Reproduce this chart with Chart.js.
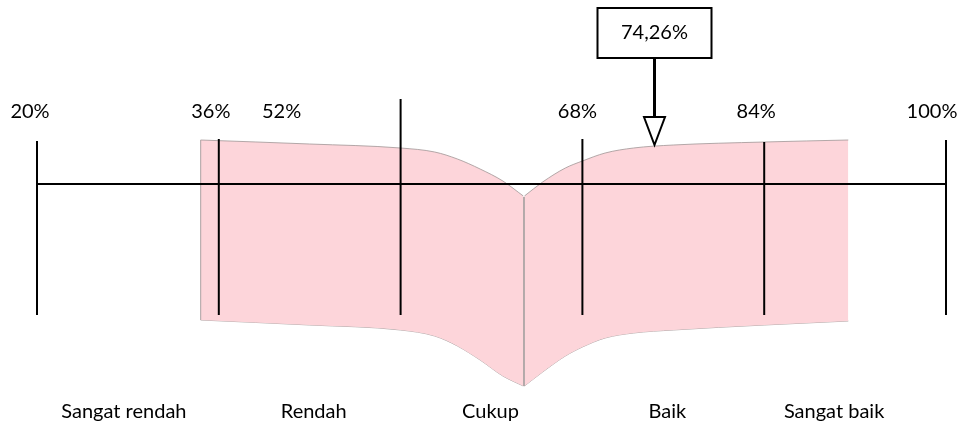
<!DOCTYPE html>
<html lang="id">
<head>
<meta charset="UTF-8">
<title>Skala kategori</title>
<style>
  html, body { margin: 0; padding: 0; background: #ffffff; }
  #chart { display: block; }
</style>
</head>
<body>
<canvas id="chart" width="964" height="427"></canvas>

<script src="https://cdn.jsdelivr.net/npm/chart.js@4/dist/chart.umd.min.js"></script>
<script>
    // scale ticks (percent) and the category names between them
    const tickValues = [20, 36, 52, 68, 84, 100];
    const tickTops = [4.3, 4.5, 8.5, 4.5, 4.2, 4.4];
    const tickBottom = -13.1;
    const categories = ['Sangat rendah', 'Rendah', 'Cukup', 'Baik', 'Sangat baik'];
    const score = 74.26;
    const scoreText = '74,26%';

    // pink "book" shape
    const leftPageX = [34.4, 44, 52, 55, 57, 59, 61, 62.8];
    const leftPageTop = [4.4, 4.0, 3.6, 3.2, 2.5, 1.5, 0.3, -1.2];
    const leftPageBottom = [-13.6, -14.1, -14.6, -15.2, -16.2, -17.6, -19.2, -20.2];
    const rightPageX = [62.9, 64.5, 66.5, 68, 70, 72.5, 76, 84, 91.4];
    const rightPageTop = [-1.2, 0.2, 1.6, 2.3, 3.1, 3.6, 3.9, 4.2, 4.4];
    const rightPageBottom = [-20.2, -18.8, -17.2, -16.3, -15.4, -14.9, -14.6, -14.1, -13.7];
    const spineX = 62.86;

    const pink = 'rgb(253,213,218)';
    const edge = 'rgba(160,150,150,0.8)';
    const font = 'Lato';

    function pts(xs, ys) {
        return xs.map((x, i) => ({x: x, y: ys[i]}));
    }

    function segment(data, color, width) {
        return {
            data: data,
            borderColor: color,
            borderWidth: width,
            pointRadius: 0,
            fill: false,
            clip: false
        };
    }

    const datasets = [];
    // black tick lines
    tickValues.forEach((v, i) => {
        datasets.push(segment([{x: v, y: tickBottom}, {x: v, y: tickTops[i]}], '#000', 2));
    });
    // horizontal axis
    datasets.push(segment([{x: tickValues[0], y: 0}, {x: tickValues[tickValues.length - 1], y: 0}], '#000', 2));
    // spine of the book
    datasets.push(segment([{x: spineX, y: -1.3}, {x: spineX, y: -20.2}], edge, 1));
    // left edge of the left page
    datasets.push(segment([{x: leftPageX[0], y: leftPageTop[0]}, {x: leftPageX[0], y: leftPageBottom[0]}], 'rgba(180,170,170,0.6)', 1));

    function page(xs, top, bottom) {
        datasets.push({
            data: pts(xs, top),
            borderColor: edge,
            borderWidth: 1,
            backgroundColor: pink,
            pointRadius: 0,
            cubicInterpolationMode: 'monotone',
            fill: '+1',
            clip: false
        });
        datasets.push({
            data: pts(xs, bottom),
            borderColor: edge,
            borderWidth: 1,
            pointRadius: 0,
            cubicInterpolationMode: 'monotone',
            fill: false,
            clip: false
        });
    }
    page(leftPageX, leftPageTop, leftPageBottom);
    page(rightPageX, rightPageTop, rightPageBottom);

    const labelsPlugin = {
        id: 'labelsPlugin',
        afterDatasetsDraw(chart, args, opts) {
            const ctx = chart.ctx;
            const xs = chart.scales.x;
            const ys = chart.scales.y;
            ctx.save();
            ctx.fillStyle = '#000';
            ctx.font = opts.fontSize + 'px ' + font;
            ctx.textAlign = 'center';
            ctx.textBaseline = 'middle';

            // percent labels above the ticks
            tickValues.forEach((v, i) => {
                ctx.fillText(v + '%', xs.getPixelForValue(v) + opts.tickLabelShift[i], ys.getPixelForValue(opts.tickLabelY));
            });

            // category names between the ticks
            categories.forEach((c, i) => {
                const mid = (tickValues[i] + tickValues[i + 1]) / 2;
                ctx.fillText(c, xs.getPixelForValue(mid) + opts.categoryShift[i], ys.getPixelForValue(opts.categoryY));
            });

            // callout box with arrow pointing at the score
            const sx = Math.round(xs.getPixelForValue(score)) + 0.5;
            const boxTop = ys.getPixelForValue(opts.boxTop);
            const boxBottom = ys.getPixelForValue(opts.boxBottom);
            const arrowBase = ys.getPixelForValue(opts.arrowBase);
            const arrowTip = ys.getPixelForValue(opts.arrowTip);
            const bw = opts.boxWidth;

            ctx.fillStyle = '#fff';
            ctx.fillRect(sx - bw / 2, boxTop, bw, boxBottom - boxTop);
            ctx.strokeStyle = '#000';
            ctx.lineWidth = 2;
            ctx.strokeRect(sx - bw / 2, boxTop, bw, boxBottom - boxTop);
            ctx.fillStyle = '#000';
            ctx.fillText(scoreText, sx, (boxTop + boxBottom) / 2);

            ctx.lineWidth = 3;
            ctx.beginPath();
            ctx.moveTo(sx, boxBottom);
            ctx.lineTo(sx, arrowBase);
            ctx.stroke();

            ctx.lineWidth = 2;
            ctx.lineJoin = 'miter';
            ctx.beginPath();
            ctx.moveTo(sx - 10.5, arrowBase);
            ctx.lineTo(sx + 10.5, arrowBase);
            ctx.lineTo(sx, arrowTip);
            ctx.closePath();
            ctx.fillStyle = '#fff';
            ctx.fill();
            ctx.stroke();
            ctx.restore();
        }
    };

    const chart = new Chart(document.getElementById('chart').getContext('2d'), {
        type: 'line',
        data: {datasets: datasets},
        options: {
            responsive: false,
            animation: false,
            events: [],
            layout: {padding: {left: 37, right: 18, top: 0, bottom: 0}},
            scales: {
                x: {type: 'linear', min: 20, max: 100, display: false},
                y: {type: 'linear', min: -24.3, max: 18.4, display: false}
            },
            plugins: {
                legend: {display: false},
                tooltip: {enabled: false},
                labelsPlugin: {
                    fontSize: 20,
                    tickLabelY: 7.2,
                    tickLabelShift: [-7, -8, -119, -5, -8, -14],
                    categoryY: -22.8,
                    categoryShift: [-4, 4, -1, -6, -21],
                    boxTop: 17.6,
                    boxBottom: 12.6,
                    boxWidth: 114,
                    arrowBase: 6.7,
                    arrowTip: 3.9
                }
            }
        },
        plugins: [labelsPlugin]
    });
</script>
</body>
</html>
